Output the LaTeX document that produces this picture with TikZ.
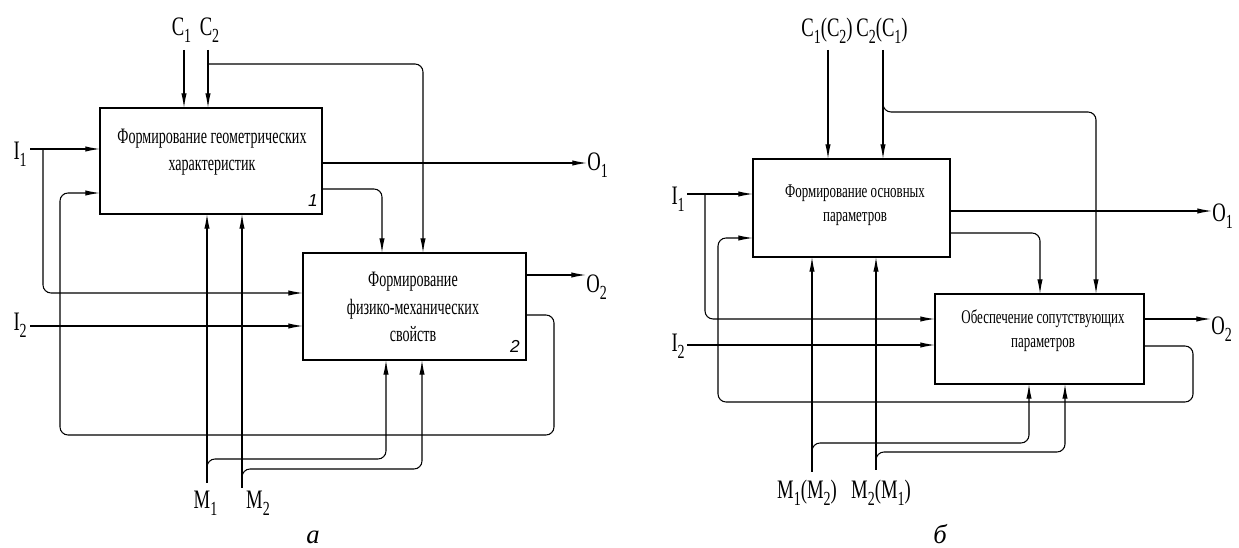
\documentclass[tikz,border=0pt]{standalone}
\usepackage{fontspec}
\setmainfont{Liberation Serif}
\newfontfamily\labf[FakeStretch=0.7]{Liberation Serif}
\newfontfamily\boxf[FakeStretch=0.64]{Liberation Serif}
\newfontfamily\boxg[FakeStretch=0.67]{Liberation Serif}
\newfontfamily\numf{Liberation Sans}
\newcommand\lsub[1]{\raisebox{-5pt}{\fontsize{15}{15}\selectfont #1}}
\usetikzlibrary{arrows.meta}
\begin{document}
\begin{tikzpicture}[x=0.75pt,y=-0.75pt,
  line/.style={line width=0.8pt, rounded corners=6pt},
  arr/.style={line, -{Latex[length=11pt,width=4pt]}},
  box/.style={draw, line width=2pt, inner sep=0pt, outer sep=0pt},
  lab/.style={font=\labf\fontsize{20}{20}\selectfont, inner sep=0pt},
  btxt/.style={font=\boxf\fontsize{16.5}{20.6}\selectfont, align=center, inner sep=0pt},
  btxs/.style={font=\boxg\fontsize{14.5}{18}\selectfont, align=center, inner sep=0pt},
  num/.style={font=\numf\itshape\fontsize{13}{13}\selectfont, inner sep=0pt},
  capt/.style={font=\itshape\fontsize{20}{20}\selectfont, inner sep=0pt, anchor=base}]
\useasboundingbox (0,0) rectangle (1239,548);
% ---------------- left diagram ----------------
\node[box, minimum width=166.5pt, minimum height=79.5pt] (A) at (211,161) {};
\node[box, minimum width=167.25pt, minimum height=80.25pt] (B) at (414.5,306.5) {};
\node[btxt] (At) at (212,152) {Формирование геометрических\\характеристик};
\node[btxt] (Bt) at (413,307) {Формирование\\физико-механических\\свойств};
\node[num] (An) at (313,201) {1};
\node[num] (Bn) at (515,346) {2};
\node[lab, anchor=base] (C1) at (181.5,36) {C\lsub{1}};
\node[lab, anchor=base] (C2) at (209.5,36) {C\lsub{2}};
\node[lab, anchor=base east] (I1) at (27,160) {I\lsub{1}};
\node[lab, anchor=base east] (I2) at (27,331) {I\lsub{2}};
\node[lab, anchor=base west] (O1) at (587,171) {O\lsub{1}};
\node[lab, anchor=base west] (O2) at (586,293) {O\lsub{2}};
\node[lab, anchor=base] (M1) at (205.5,509) {M\lsub{1}};
\node[lab, anchor=base] (M2) at (258,509) {M\lsub{2}};
\node[capt] (ca) at (313,544) {а};
\coordinate (c1s) at (184,50);
\coordinate (c2s) at (208,50);
\coordinate (i1s) at (30,149);
\coordinate (i2s) at (30,326);
\coordinate (m1s) at (207,483);
\coordinate (m2s) at (242,488);
\draw[arr] (c1s) -- (c1s |- A.north);
\draw[arr] (c2s) -- (c2s |- A.north);
\draw[arr] (208,64) -- (423,64) -- (423,64 |- B.north);
\draw[arr] (i1s) -- (i1s -| A.west);
\draw[arr] (43,149) -- (43,293) -- (43,293 -| B.west);
\draw[arr] (i2s) -- (i2s -| B.west);
\draw[arr] (B.east |- 0,315) -- (554,315) -- (554,435) -- (60,435) -- (60,193) -- (60,193 -| A.west);
\draw[arr] (A.east |- 0,163) -- (O1.west |- 0,163);
\draw[arr] (A.east |- 0,189) -- (382,189) -- (382,189 |- B.north);
\draw[arr] (B.east |- 0,275) -- (O2.west |- 0,275);
\draw[arr] (m1s) -- (m1s |- A.south);
\draw[arr] (207,471) -- (207,459) -- (386,459) -- (386,459 |- B.south);
\draw[arr] (m2s) -- (m2s |- A.south);
\draw[arr] (242,481) -- (242,469) -- (422,469) -- (422,469 |- B.south);
% ---------------- right diagram ----------------
\node[box, minimum width=147.75pt, minimum height=73.5pt] (C) at (851.5,208) {};
\node[box, minimum width=156.75pt, minimum height=67.5pt] (D) at (1039.5,339) {};
\node[btxs] (Ct) at (855,205) {Формирование основных\\параметров};
\node[btxs] (Dt) at (1043,331) {Обеспечение сопутствующих\\параметров};
\node[lab, anchor=base] (RC1) at (827,37) {C\lsub{1}(C\lsub{2})};
\node[lab, anchor=base] (RC2) at (882,37) {C\lsub{2}(C\lsub{1})};
\node[lab, anchor=base east] (RI1) at (685,205) {I\lsub{1}};
\node[lab, anchor=base east] (RI2) at (685,352) {I\lsub{2}};
\node[lab, anchor=base west] (RO1) at (1212,222) {O\lsub{1}};
\node[lab, anchor=base west] (RO2) at (1211,335) {O\lsub{2}};
\node[lab, anchor=base] (RM1) at (807,499) {M\lsub{1}(M\lsub{2})};
\node[lab, anchor=base] (RM2) at (881,499) {M\lsub{2}(M\lsub{1})};
\node[capt] (cb) at (940,544) {б};
\coordinate (rc1s) at (828,50);
\coordinate (rc2s) at (883,50);
\coordinate (ri1s) at (687,194);
\coordinate (ri2s) at (687,345);
\coordinate (rm1s) at (812,472);
\coordinate (rm2s) at (876,470);
\draw[arr] (rc1s) -- (rc1s |- C.north);
\draw[arr] (rc2s) -- (rc2s |- C.north);
\draw[arr] (883,100) -- (883,112) -- (1096,112) -- (1096,112 |- D.north);
\draw[arr] (ri1s) -- (ri1s -| C.west);
\draw[arr] (705,194) -- (705,319) -- (705,319 -| D.west);
\draw[arr] (ri2s) -- (ri2s -| D.west);
\draw[arr] (D.east |- 0,346) -- (1193,346) -- (1193,402) -- (718,402) -- (718,238) -- (718,238 -| C.west);
\draw[arr] (C.east |- 0,211) -- (RO1.west |- 0,211);
\draw[arr] (C.east |- 0,233) -- (1040,233) -- (1040,233 |- D.north);
\draw[arr] (D.east |- 0,319) -- (RO2.west |- 0,319);
\draw[arr] (rm1s) -- (rm1s |- C.south);
\draw[arr] (812,455) -- (812,443) -- (1029,443) -- (1029,443 |- D.south);
\draw[arr] (rm2s) -- (rm2s |- C.south);
\draw[arr] (876,464) -- (876,452) -- (1065,452) -- (1065,452 |- D.south);
\end{tikzpicture}
\end{document}
